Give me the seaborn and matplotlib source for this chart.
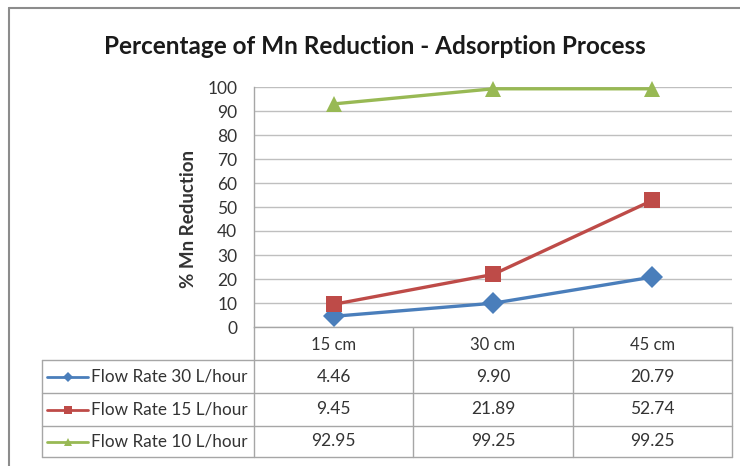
import numpy as np
import pandas as pd
import seaborn as sns
import matplotlib.pyplot as plt

# Data
depths = ["15 cm", "30 cm", "45 cm"]
series = ["Flow Rate 30 L/hour", "Flow Rate 15 L/hour", "Flow Rate 10 L/hour"]
rate_30 = [4.46, 9.90, 20.79]
rate_15 = [9.45, 21.89, 52.74]
rate_10 = [92.95, 99.25, 99.25]
yticks = list(range(0, 101, 10))
title = "Percentage of Mn Reduction - Adsorption Process"
ylabel = "% Mn Reduction"

colors = ["#4A7EBB", "#BE4B48", "#98B954"]
markers = ["D", "s", "^"]
marker_sizes = [9, 10, 10]

sns.set_theme(style="white")
plt.rcParams["font.family"] = ["Lato", "DejaVu Sans"]

W, H = 740, 466
fig = plt.figure(figsize=(W / 100, H / 100), dpi=100)
fig.patch.set_facecolor("white")

# Plot area in pixels
L, R, T, B = 254, 732, 87, 327
ax = fig.add_axes([L / W, 1 - B / H, (R - L) / W, (B - T) / H])

values = [rate_30, rate_15, rate_10]
df = pd.DataFrame({
    "depth": np.tile(np.arange(len(depths)), len(series)),
    "value": np.concatenate(values),
    "series": np.repeat(series, len(depths)),
})
sns.lineplot(data=df, x="depth", y="value", hue="series", style="series",
             hue_order=series, style_order=series, palette=colors,
             markers=markers, dashes=False, linewidth=2.4, markersize=11,
             markeredgewidth=0, legend=False, ax=ax, clip_on=False, zorder=3)

ax.set_xlim(-0.5, len(depths) - 0.5)
ax.set_ylim(0, 100)
ax.set_yticks(yticks)
ax.set_xticks([])
ax.yaxis.grid(True, color="#BFBFBF", linewidth=1)
ax.tick_params(axis="y", length=0, pad=12, labelsize=12.5, labelcolor="#333333")
for side in ["top", "right"]:
    ax.spines[side].set_visible(False)
for side in ["left", "bottom"]:
    ax.spines[side].set_color("#A6A6A6")
    ax.spines[side].set_linewidth(1)
ax.set_xlabel("")
ax.set_ylabel(ylabel, fontsize=13.5, fontweight="bold", color="#333333")
ax.yaxis.set_label_coords((197 - L) / (R - L), 0.45)

fig.text(375 / W, 1 - 46 / H, title, ha="center", va="center",
         fontsize=17.5, fontweight="bold", color="#1a1a1a")

# Data table beneath the plot area
tab = fig.add_axes([0, 0, 1, 1], zorder=-1)
tab.set_xlim(0, W)
tab.set_ylim(H, 0)
tab.axis("off")
grid_c = "#A6A6A6"
text_c = "#333333"
col_w = (R - L) / len(depths)
col_edges = [L + i * col_w for i in range(len(depths) + 1)]
row_edges = [327, 360, 393, 426, 457]
tab_left = 42

for x in col_edges:
    tab.plot([x, x], [row_edges[0], row_edges[-1]], color=grid_c, lw=1)
tab.plot([tab_left, tab_left], [row_edges[1], row_edges[-1]], color=grid_c, lw=1)
for y in row_edges[1:]:
    tab.plot([tab_left, R], [y, y], color=grid_c, lw=1)

for i, d in enumerate(depths):
    tab.text(L + (i + 0.5) * col_w, (row_edges[0] + row_edges[1]) / 2 + 1, d,
             ha="center", va="center", fontsize=12, color=text_c)

for r, (name, vals) in enumerate(zip(series, values)):
    yc = (row_edges[r + 1] + row_edges[r + 2]) / 2
    tab.plot([47, 88], [yc, yc], color=colors[r], lw=2)
    tab.plot([67.5], [yc], marker=markers[r], color=colors[r],
             markersize=marker_sizes[r] * 0.55, markeredgewidth=0)
    tab.text(91, yc, name, ha="left", va="center", fontsize=12.3, color=text_c)
    for i, v in enumerate(vals):
        tab.text(L + (i + 0.5) * col_w, yc, f"{v:.2f}", ha="center",
                 va="center", fontsize=12.5, color=text_c)

# Chart frame
tab.plot([9, 9], [8, H + 5], color="#8C8C8C", lw=1.5, clip_on=False)
tab.plot([9, W + 5], [8, 8], color="#8C8C8C", lw=1.5, clip_on=False)

fig.savefig("out.png", dpi=100, facecolor="white")
